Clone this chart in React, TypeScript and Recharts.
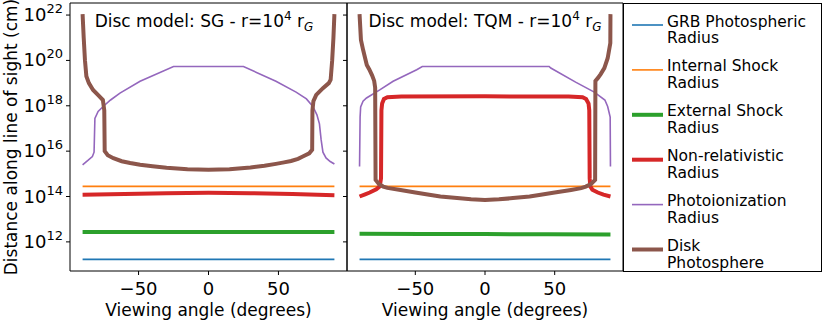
import React from 'react';
import { LineChart, Line, XAxis, YAxis, ReferenceArea } from 'recharts';

const FONT = '"DejaVu Sans", Verdana, sans-serif';

const Y_MIN = 5.2e10;
const Y_MAX = 3.4e22;
const yTicks = [1e12, 1e14, 1e16, 1e18, 1e20, 1e22];
const xTicks = [-50, 0, 50];

// ---- SG disc model ----
const sgFlatAngles = [-90, -45, 0, 45, 90];
const sgGrbPhoto = [1.7e11, 1.7e11, 1.7e11, 1.7e11, 1.7e11];
const sgInternal = [2.8e14, 2.8e14, 2.8e14, 2.8e14, 2.8e14];
const sgExternal = [2.7e12, 2.7e12, 2.7e12, 2.7e12, 2.7e12];

const sgNonRelAngles = [-90, -60, -30, 0, 30, 60, 90];
const sgNonRel = [1.2e14, 1.3e14, 1.4e14, 1.45e14, 1.4e14, 1.3e14, 1.15e14];

const sgPhotoionAngles = [-90, -86, -83, -81.8, -81.2, -78.9, -75.3, -70, -63.3, -48.9, -25,
  25, 48.2, 62.6, 70, 74.6, 77.5, 79.3, 80.5, 81.8, 84, 87, 90];
const sgPhotoion = [2.5e15, 4e15, 5.8e15, 9e15, 2.8e17, 5.6e17, 9.3e17, 1.8e18, 3.6e18, 1.2e19, 5.4e19,
  5.4e19, 1.2e19, 4e18, 2e18, 9.3e17, 4e17, 1.6e17, 3.2e16, 9e15, 5e15, 3.5e15, 2.7e15];

const sgDiskAngles = [-90, -89.2, -88.3, -87.3, -85.5, -82.5, -78.5, -75.5, -74.5, -74.2, -72, -68, -62, -56,
  -48.9, -40, -30, -15, 0, 15, 30, 40, 48.2, 54, 59, 64, 67.4, 72, 74.1, 74.3, 75, 77, 81.8, 86, 87.3, 88.4, 89.3, 90];
const sgDisk = [1.1e22, 1e21, 1e20, 2e19, 1e19, 5e18, 2.8e18, 1.8e18, 6.3e17, 1e16, 6.6e15, 4.9e15, 3.6e15, 3e15,
  2.5e15, 2.15e15, 1.85e15, 1.6e15, 1.5e15, 1.6e15, 1.9e15, 2.25e15, 2.75e15, 3.2e15, 3.7e15, 4.6e15, 5.8e15, 8e15,
  1.15e16, 6.3e17, 1.6e18, 3e18, 6e18, 1e19, 1.4e19, 1e20, 1e21, 1.1e22];

// ---- TQM disc model ----
const tqmFlatAngles = [-90, -45, 0, 45, 90];
const tqmGrbPhoto = [1.7e11, 1.7e11, 1.7e11, 1.7e11, 1.7e11];
const tqmInternal = [2.8e14, 2.8e14, 2.8e14, 2.8e14, 2.8e14];
const tqmExternal = [2.3e12, 2.25e12, 2.2e12, 2.15e12, 2.1e12];

const tqmNonRelAngles = [-90, -86, -82.7, -78, -75.5, -74.6, -74.3, -73.8, -72.5, -70, -60, 0,
  60, 70, 72.5, 74.3, 74.8, 75.1, 75.5, 77, 80.9, 85, 90];
const tqmNonRel = [1e14, 1.25e14, 1.5e14, 2.1e14, 2.8e14, 6.3e14, 6.3e17, 1.26e18, 2e18, 2.4e18, 2.55e18, 2.6e18,
  2.55e18, 2.4e18, 2e18, 1.26e18, 6.3e17, 6.3e14, 2.8e14, 2e14, 1.5e14, 1.2e14, 1e14];

const tqmPhotoionAngles = [-90, -89.6, -89.2, -87.5, -85, -75.5, -65.9, -49, -45,
  46, 47.2, 65, 78.4, 86, 88, 89.8, 90];
const tqmPhotoion = [2.1e15, 3.2e17, 9e17, 1.6e18, 2.2e18, 5e18, 1.2e19, 3.9e19, 5.4e19,
  5.4e19, 4.6e19, 1.1e19, 4e18, 1.8e18, 9.3e17, 3.2e17, 2.1e15];

const tqmDiskAngles = [-90, -89, -87.5, -84.8, -83, -81, -79.5, -78.8, -78.5, -76, -73, -70, -60.6, -50, -40,
  -32, -20, -10, 0, 10, 20, 32, 40, 50, 61.7, 69, 72.3, 76, 79, 79.2, 80.9, 83, 85.6, 88, 89.9, 90];
const tqmDisk = [1.1e22, 8e20, 3e20, 6.3e19, 4e19, 2.2e19, 1.25e19, 6.3e18, 5.4e14, 3.5e14, 2.75e14, 2.4e14,
  1.95e14, 1.5e14, 1.2e14, 1e14, 8.5e13, 7.5e13, 7e13, 7.5e13, 8.5e13, 1e14, 1.2e14, 1.5e14, 1.95e14, 2.35e14,
  2.75e14, 3.5e14, 5.4e14, 1.25e19, 1.65e19, 2.5e19, 4.6e19, 1.25e20, 5.8e20, 1.1e22];

const seriesNames = ['GRB Photospheric Radius', 'Internal Shock Radius', 'External Shock Radius',
  'Non-relativistic Radius', 'Photoionization Radius', 'Disk Photosphere'];
const legendLines = [['GRB Photospheric', 'Radius'], ['Internal Shock', 'Radius'], ['External Shock', 'Radius'],
  ['Non-relativistic', 'Radius'], ['Photoionization', 'Radius'], ['Disk', 'Photosphere']];
const colors = ['#1f77b4', '#ff7f0e', '#2ca02c', '#d62728', '#9467bd', '#8c564b'];
const widths = [1.6, 1.6, 4, 4, 1.6, 4];

const pts = (a: number[], v: number[]) => a.map((x, i) => ({ a: x, v: v[i] }));

const sgSeries = [
  pts(sgFlatAngles, sgGrbPhoto),
  pts(sgFlatAngles, sgInternal),
  pts(sgFlatAngles, sgExternal),
  pts(sgNonRelAngles, sgNonRel),
  pts(sgPhotoionAngles, sgPhotoion),
  pts(sgDiskAngles, sgDisk),
];
const tqmSeries = [
  pts(tqmFlatAngles, tqmGrbPhoto),
  pts(tqmFlatAngles, tqmInternal),
  pts(tqmFlatAngles, tqmExternal),
  pts(tqmNonRelAngles, tqmNonRel),
  pts(tqmPhotoionAngles, tqmPhotoion),
  pts(tqmDiskAngles, tqmDisk),
];

const XTick = ({ x, y, payload }: any) => (
  <text x={x} y={y} dy={18} textAnchor="middle" fontSize={18} fill="#000" fontFamily={FONT}>
    {payload.value < 0 ? '\u2212' + Math.abs(payload.value) : String(payload.value)}
  </text>
);

const YTick = ({ x, y, payload }: any) => (
  <text x={x} y={y} dy={6} textAnchor="end" fontSize={18} fill="#000" fontFamily={FONT}>
    10<tspan dy={-8} fontSize={13}>{Math.round(Math.log10(payload.value))}</tspan>
  </text>
);

const NoTick = () => <g />;

const Panel = ({ series, left, width, yWidth, showY }: any) => (
  <div style={{ position: 'absolute', left, top: 0 }}>
    <LineChart width={width} height={320} margin={{ top: 3, right: 1, bottom: 0, left: 0 }}>
      <XAxis
        dataKey="a"
        type="number"
        domain={[-99, 99]}
        ticks={xTicks}
        height={49}
        axisLine={false}
        tickSize={4}
        tickMargin={2}
        tickLine={{ stroke: '#000' }}
        tick={<XTick />}
        label={{ value: 'Viewing angle (degrees)', position: 'insideBottom', offset: 4, style: { fontSize: 17, fill: '#000', fontFamily: FONT } }}
      />
      <YAxis
        type="number"
        scale="log"
        domain={[Y_MIN, Y_MAX]}
        allowDataOverflow
        ticks={yTicks}
        width={yWidth}
        axisLine={false}
        tickSize={4}
        tickMargin={3}
        tickLine={{ stroke: '#000' }}
        tick={showY ? <YTick /> : <NoTick />}
        label={showY ? { value: 'Distance along line of sight (cm)', angle: -90, position: 'insideLeft', offset: 11, style: { textAnchor: 'middle', fontSize: 17, fill: '#000', fontFamily: FONT } } : undefined}
      />
      <ReferenceArea x1={-99} x2={99} y1={Y_MIN} y2={Y_MAX} fill="none" stroke="#000" strokeWidth={1} ifOverflow="visible" />
      {series.map((d: any, i: number) => (
        <Line
          key={i}
          data={d}
          dataKey="v"
          name={seriesNames[i]}
          type="linear"
          stroke={colors[i]}
          strokeWidth={widths[i]}
          dot={false}
          isAnimationActive={false}
        />
      ))}
    </LineChart>
  </div>
);

const App = () => (
  <div style={{ position: 'absolute', left: 0, top: 0, width: 830, height: 320, background: '#fff', fontFamily: FONT }}>
    <Panel series={sgSeries} left={0} width={348} yWidth={70} showY />
    <Panel series={tqmSeries} left={337} width={287} yWidth={10} showY={false} />
    <svg width={830} height={320} style={{ position: 'absolute', left: 0, top: 0, pointerEvents: 'none' }}>
      <text x={204} y={27} textAnchor="middle" fontSize={17} fill="#000" fontFamily={FONT}>
        Disc model: SG - r=10<tspan dy={-7} fontSize={12}>4</tspan><tspan dy={7}> r</tspan>
        <tspan dy={4} fontSize={12} fontStyle="italic">G</tspan>
      </text>
      <text x={485} y={27} textAnchor="middle" fontSize={17} fill="#000" fontFamily={FONT}>
        Disc model: TQM - r=10<tspan dy={-7} fontSize={12}>4</tspan><tspan dy={7}> r</tspan>
        <tspan dy={4} fontSize={12} fontStyle="italic">G</tspan>
      </text>
      <rect x={623.5} y={3.5} width={198} height={268} fill="none" stroke="#000" strokeWidth={1} />
      {legendLines.map((lines, i) => (
        <g key={i}>
          <line x1={632} x2={663} y1={25 + i * 44.9} y2={25 + i * 44.9} stroke={colors[i]} strokeWidth={widths[i]} />
          <text x={667} y={26.5 + i * 44.9} fontSize={15.5} fill="#000" fontFamily={FONT}>{lines[0]}</text>
          <text x={667} y={43 + i * 44.9} fontSize={15.5} fill="#000" fontFamily={FONT}>{lines[1]}</text>
        </g>
      ))}
    </svg>
  </div>
);

export default App;
